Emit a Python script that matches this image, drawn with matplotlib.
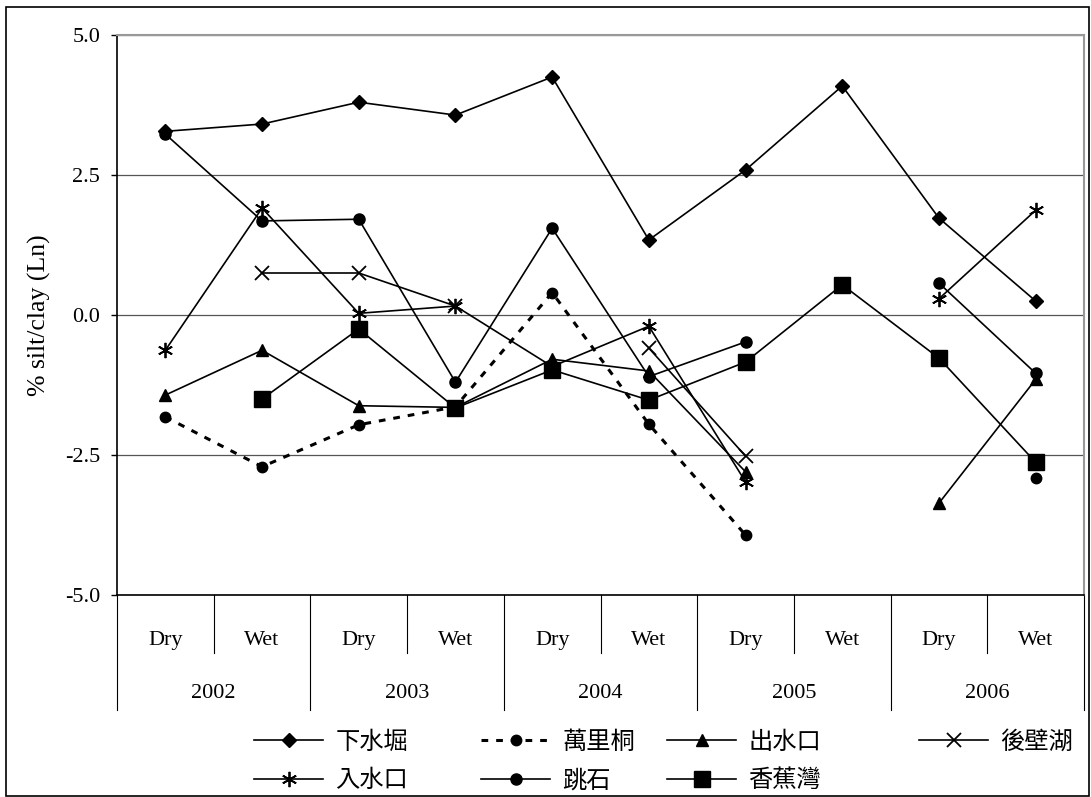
import matplotlib.pyplot as plt
import numpy as np
from matplotlib.patches import Rectangle

nan = np.nan

# categories
seasons = ['Dry', 'Wet'] * 5
years = ['2002', '2003', '2004', '2005', '2006']

# series values (% silt/clay, Ln)
xiashuijue = [3.28, 3.41, 3.80, 3.57, 4.25, 1.34, 2.59, 4.09, 1.73, 0.25]
wanlitong = [-1.82, -2.71, -1.96, -1.64, 0.40, -1.95, -3.93, nan, nan, -2.91]
chushuikou = [-1.43, -0.63, -1.62, -1.65, -0.79, -1.00, -2.80, nan, -3.36, -1.15]
houbihu = [nan, 0.75, 0.75, 0.16, nan, -0.59, -2.52, nan, nan, nan]
rushuikou = [-0.63, 1.91, 0.03, 0.16, -0.92, -0.20, -2.98, nan, 0.29, 1.87]
tiaoshi = [3.23, 1.68, 1.71, -1.20, 1.55, -1.10, -0.48, nan, 0.57, -1.04]
xiangjiaowan = [nan, -1.50, -0.25, -1.66, -0.98, -1.52, -0.84, 0.54, -0.77, -2.63]

names = ['下水堀', '萬里桐', '出水口', '後壁湖', '入水口', '跳石', '香蕉灣']

serif = 'Liberation Serif'
cjk = ['Noto Sans CJK TC', 'DejaVu Sans']

fig = plt.figure(figsize=(10.91, 7.97), dpi=100)
ax = fig.add_axes([117/1091, 1-595/797, (1084-117)/1091, 560/797])

x = np.arange(len(seasons))
lw = 1.2
h = []
h += ax.plot(x, xiashuijue, color='black', lw=lw, marker='D', ms=7)
h += ax.plot(x, wanlitong, color='black', lw=2.2, ls=(0, (2.2, 2.6)), marker='o', ms=7.5)
h += ax.plot(x, chushuikou, color='black', lw=lw, marker='^', ms=8.5)
h += ax.plot(x, houbihu, color='black', lw=lw, marker='x', ms=10, mew=1.3)
h += ax.plot(x, rushuikou, color='black', lw=lw, marker=(6, 2, 0), ms=11, mew=1.3)
h += ax.plot(x, tiaoshi, color='black', lw=lw, marker='o', ms=8)
h += ax.plot(x, xiangjiaowan, color='black', lw=lw, marker='s', ms=11)

ax.set_xlim(-0.5, 9.5)
ax.set_ylim(-5, 5)
ax.set_yticks([-5, -2.5, 0, 2.5, 5])
ax.set_yticklabels(['-5.0', '-2.5', '0.0', '2.5', '5.0'], fontfamily=serif, fontsize=16)
ax.yaxis.grid(True, color='#555555', lw=0.9)
ax.set_axisbelow(True)
ax.tick_params(axis='y', direction='out', length=4, width=1, pad=8)

ax.set_xticks(x)
ax.set_xticklabels(seasons, fontfamily=serif, fontsize=16)
ax.tick_params(axis='x', length=0, pad=26)

for s in ['top', 'right']:
    ax.spines[s].set_color('#999999')
    ax.spines[s].set_linewidth(1.5)
for s in ['left', 'bottom']:
    ax.spines[s].set_color('black')
    ax.spines[s].set_linewidth(1.2)

ax.set_ylabel('% silt/clay (Ln)', fontfamily=serif, fontsize=18.5, labelpad=10)

# category separators below the axis
sep_short = -(653 - 595) / 560
sep_long = -(710 - 595) / 560
trans = ax.get_xaxis_transform()
for i in range(11):
    xb = i - 0.5
    y1 = sep_long if i % 2 == 0 else sep_short
    ax.plot([xb, xb], [0, y1], transform=trans, color='black', lw=0.8, clip_on=False)
for j, yr in enumerate(years):
    ax.text(2 * j + 0.5, -(693 - 595) / 560, yr, transform=trans, ha='center', va='center',
            fontfamily=serif, fontsize=16)

# legend: four columns placed separately (Excel-like uneven spacing)
cols = [[0, 4], [1, 5], [2, 6], [3]]
col_x = [254, 481, 667, 919]
for idx, cx in zip(cols, col_x):
    fig.legend([h[i] for i in idx], [names[i] for i in idx], ncol=1,
               loc='upper left', bbox_to_anchor=(cx/1091, 1-729/797), frameon=False,
               prop={'family': cjk, 'size': 17.5}, handlelength=2.85, handletextpad=0.5,
               labelspacing=0.5, borderpad=0, borderaxespad=0)

fig.add_artist(Rectangle((6/1091, 1/797), 1083/1091, 789/797, transform=fig.transFigure,
                         fill=False, edgecolor='black', lw=1.2))

fig.savefig('out.png', dpi=100)
